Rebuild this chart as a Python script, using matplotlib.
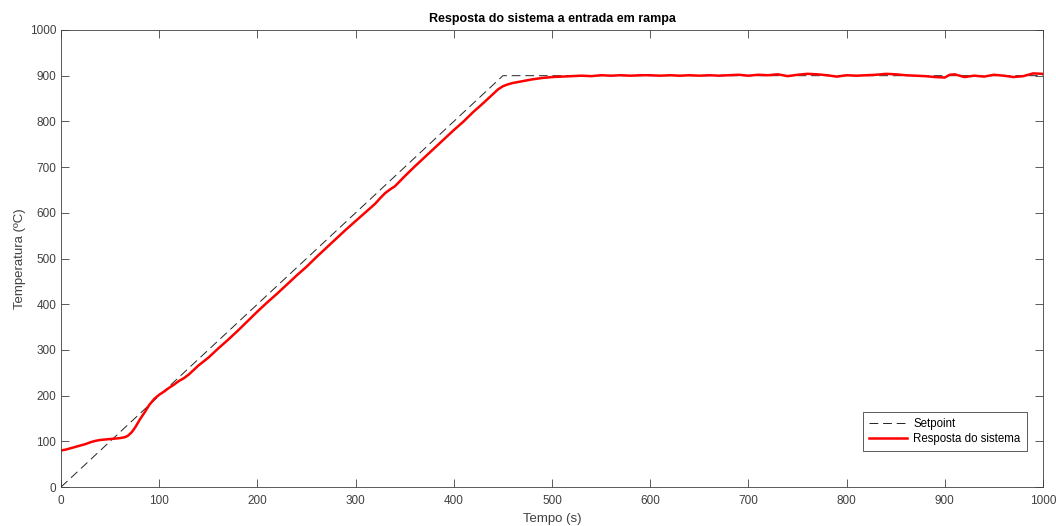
import matplotlib
matplotlib.use('Agg')
import matplotlib.pyplot as plt

plt.rcParams['font.family'] = ['Liberation Sans', 'DejaVu Sans']

# setpoint (rampa de 2 C/s ate 900)
t_sp = [0, 450, 1000]
temp_sp = [0, 900, 900]

# resposta
t_resp = [0, 5, 10, 15, 20, 25, 30, 35, 40, 45, 50, 55, 60, 65, 68, 72, 76, 80, 85, 90,
          95, 100, 105, 110, 115, 120, 125, 130, 140, 150, 160, 170, 180, 190, 200, 210,
          220, 230, 240, 250, 260, 270, 280, 290, 300, 310, 320, 325, 330, 335, 340, 350,
          360, 370, 380, 390, 400, 410, 420, 430, 440, 445, 450, 455, 460, 470, 480, 490,
          500, 510, 520, 530, 540, 550, 560, 570, 580, 590, 600, 610, 620, 630, 640, 650,
          660, 670, 680, 690, 700, 710, 720, 730, 740, 750, 760, 770, 780, 790, 800, 810,
          820, 830, 840, 850, 860, 870, 880, 890, 900, 905, 910, 920, 930, 940, 950, 960,
          970, 980, 990, 1000]
temp_resp = [80, 82, 85, 88, 91, 94, 98, 101, 103, 104, 105, 106, 107, 109, 112, 120, 132, 147, 163, 180,
             193, 202, 209, 217, 224, 232, 238, 246, 266, 283, 303, 322, 342, 363, 384, 404,
             423, 443, 463, 482, 503, 523, 543, 563, 582, 601, 620, 632, 643, 651, 658, 680,
             701, 721, 741, 761, 781, 800, 821, 840, 860, 870, 877, 881, 884, 888, 892, 895,
             897, 898, 899, 900, 899, 901, 900, 901, 900, 901, 901, 900, 901, 900, 901, 900,
             901, 900, 901, 902, 900, 902, 901, 903, 899, 902, 904, 903, 901, 898, 901, 900,
             901, 902, 904, 903, 901, 900, 899, 897, 896, 902, 903, 897, 900, 898, 902, 900,
             897, 899, 905, 904]

fig = plt.figure(figsize=(10.56, 5.26), dpi=100)
ax = fig.add_axes([0.0578, 0.0741, 0.9299, 0.8689])

ax.plot(t_sp, temp_sp, color='#222222', lw=0.7, dashes=(9, 5), label='Setpoint')
ax.plot(t_resp, temp_resp, color='red', lw=1.8, label='Resposta do sistema')

ax.set_xlim(0, 1000)
ax.set_ylim(0, 1000)
ax.set_xticks(range(0, 1001, 100))
ax.set_yticks(range(0, 1001, 100))

gray = '#404040'
for s in ax.spines.values():
    s.set_color(gray)
    s.set_linewidth(0.6)
ax.tick_params(direction='in', length=6, width=0.6, top=True, right=True,
               colors=gray, labelsize=8.5)
ax.tick_params(axis='x', pad=6)

ax.set_title('Resposta do sistema a entrada em rampa', fontsize=9, fontweight='bold', pad=6)
ax.set_xlabel('Tempo (s)', fontsize=9.5, color=gray, labelpad=4)
ax.set_ylabel('Temperatura (ºC)', fontsize=9.5, color=gray, labelpad=3)

leg = ax.legend(loc='lower right', bbox_to_anchor=(0.9835, 0.078), fontsize=8.3,
                fancybox=False, framealpha=1, edgecolor=gray, handlelength=3.3,
                borderpad=0.55, labelspacing=0.25, handletextpad=0.5, borderaxespad=0)
leg.get_frame().set_linewidth(0.6)

fig.savefig('out.png', dpi=100)
